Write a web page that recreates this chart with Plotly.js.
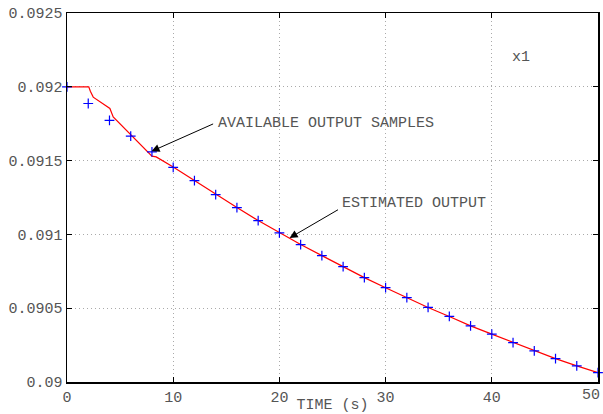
<!DOCTYPE html>
<html>
<head>
<meta charset="utf-8">
<script src="https://cdn.plot.ly/plotly-3.0.1.min.js"></script>
<style>html,body{margin:0;padding:0;background:#fff;}#chart{width:603px;height:414px;}</style>
</head>
<body>
<div id="chart"></div>
<script>
// Available output samples
const sampleTime = [0,2,4,6,8,10,12,14,16,18,20,22,24,26,28,30,32,34,36,38,40,42,44,46,48,50];
const sampleValue = [0.092,0.091887,0.091773,0.091666,0.091559,0.091454,0.091365,0.09127,0.091182,0.091094,0.09101,0.090931,0.090856,0.090781,0.090707,0.090639,0.090571,0.090505,0.090444,0.09038,0.090324,0.090267,0.090211,0.090158,0.090109,0.090063];
// Estimated output
const estTime = [0,2.05,2.2,2.47,4.04,4.2,4.35,8.0,8.4,10,12,14,16,18,20,22,24,26,28,30,32,34,36,38,40,42,44,46,48,50];
const estValue = [0.092,0.092,0.09197,0.09193,0.091853,0.09182,0.091796,0.09153,0.091525,0.091456,0.091365,0.09127,0.091182,0.091094,0.09101,0.090931,0.090856,0.090781,0.090707,0.090639,0.090571,0.090505,0.090444,0.09038,0.090324,0.090267,0.090211,0.090158,0.090109,0.090063];
const xTicks = [0,10,20,30,40,50];
const yTicks = [0.09,0.0905,0.091,0.0915,0.092,0.0925];
const yTickText = ['0.09','0.0905','0.091','0.0915','0.092','0.0925'];

const font = {family:'Liberation Mono, monospace', size:15, color:'#555'};

const traces = [
  {x:estTime, y:estValue, mode:'lines', line:{color:'#ff0000', width:1.2}, hoverinfo:'skip'},
  {x:sampleTime, y:sampleValue, mode:'markers', marker:{symbol:'cross-thin', size:7, line:{color:'#0000ff', width:1.2}, color:'#0000ff'}, cliponaxis:false}
];

const axisCommon = {
  showline:true, linecolor:'#000', linewidth:1.5, mirror:'ticks',
  ticks:'inside', ticklen:5, tickcolor:'#000',
  showgrid:true, gridcolor:'#aaa', griddash:'1px,3px', gridwidth:1,
  zeroline:false, tickfont:font, automargin:false
};

const lastX = xTicks[xTicks.length - 1];

const layout = {
  width:603, height:414,
  margin:{l:67, r:5, t:13, b:32},
  paper_bgcolor:'#fff', plot_bgcolor:'#fff',
  showlegend:false,
  font:font,
  xaxis:Object.assign({}, axisCommon, {range:[0,50], tickvals:xTicks, ticktext:xTicks.map(String),
    title:{text:'TIME (s)', font:font, standoff:0}}),
  yaxis:Object.assign({}, axisCommon, {range:[0.09,0.0925], tickvals:yTicks, ticktext:yTickText, ticklabeloverflow:'allow'}),
  annotations:[
    {x:7.96, y:0.091563, ax:13.9, ay:0.091753, axref:'x', ayref:'y', xref:'x', yref:'y', text:'', showarrow:true, arrowhead:2, arrowsize:1.6, arrowwidth:1, arrowcolor:'#000'},
    {x:20.96, y:0.090976, ax:25.66, ay:0.091173, axref:'x', ayref:'y', xref:'x', yref:'y', text:'', showarrow:true, arrowhead:2, arrowsize:1.6, arrowwidth:1, arrowcolor:'#000'},
    {x:14.05, y:0.091753, xref:'x', yref:'y', text:'AVAILABLE OUTPUT SAMPLES', showarrow:false, xanchor:'left', yanchor:'middle', font:font},
    {x:25.7, y:0.091208, xref:'x', yref:'y', text:'ESTIMATED OUTPUT', showarrow:false, xanchor:'left', yanchor:'middle', font:font},
    {x:41.7, y:0.0922, xref:'x', yref:'y', text:'x1', showarrow:false, xanchor:'left', yanchor:'middle', font:font},
    {x:lastX, y:0, xref:'x', yref:'paper', text:String(lastX), showarrow:false, xanchor:'right', yanchor:'top', xshift:4, yshift:-3, font:font}
  ]
};

Plotly.newPlot('chart', traces, layout, {staticPlot:true, displayModeBar:false});
</script>
</body>
</html>
